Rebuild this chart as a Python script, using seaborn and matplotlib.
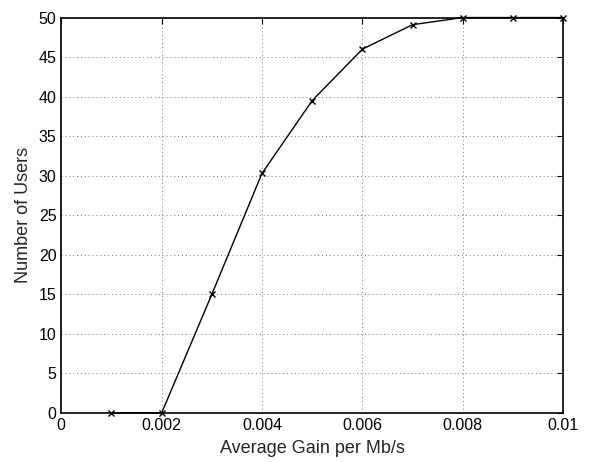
import matplotlib
matplotlib.use('Agg')
import matplotlib.pyplot as plt
import seaborn as sns
import pandas as pd

gain = [0.001, 0.002, 0.003, 0.004, 0.005, 0.006, 0.007, 0.008, 0.009, 0.010]
users = [0, 0, 15, 30.3, 39.5, 46, 49.1, 50, 50, 50]
x_ticks = [0, 0.002, 0.004, 0.006, 0.008, 0.01]
x_labels = ['0', '0.002', '0.004', '0.006', '0.008', '0.01']
y_ticks = [0, 5, 10, 15, 20, 25, 30, 35, 40, 45, 50]

sns.set_style('white')
plt.rcParams['font.family'] = ['Liberation Sans', 'DejaVu Sans']

df = pd.DataFrame({'gain': gain, 'users': users})

fig = plt.figure(figsize=(5.89, 4.62), dpi=100)
ax = fig.add_axes([0.104, 0.106, 0.852, 0.856])
sns.lineplot(data=df, x='gain', y='users', color='black', linewidth=1.0,
             marker='x', markersize=5, markeredgewidth=1.0,
             markeredgecolor='black', clip_on=False, zorder=5, ax=ax)

ax.set_xlim(0, 0.01)
ax.set_ylim(0, 50)
ax.set_xticks(x_ticks)
ax.set_xticklabels(x_labels)
ax.set_yticks(y_ticks)
ax.grid(True, linestyle=(0, (1, 3)), color='#777777', linewidth=0.7)
ax.tick_params(direction='in', top=True, right=True, length=4, width=0.8,
               labelsize=11.5, colors='black')
for s in ax.spines.values():
    s.set_visible(True)
    s.set_color('black')
    s.set_linewidth(1.2)
ax.set_xlabel('Average Gain per Mb/s', fontsize=13, labelpad=5)
ax.set_ylabel('Number of Users', fontsize=13, labelpad=5)

plt.savefig('out.png', dpi=100)
plt.close()
